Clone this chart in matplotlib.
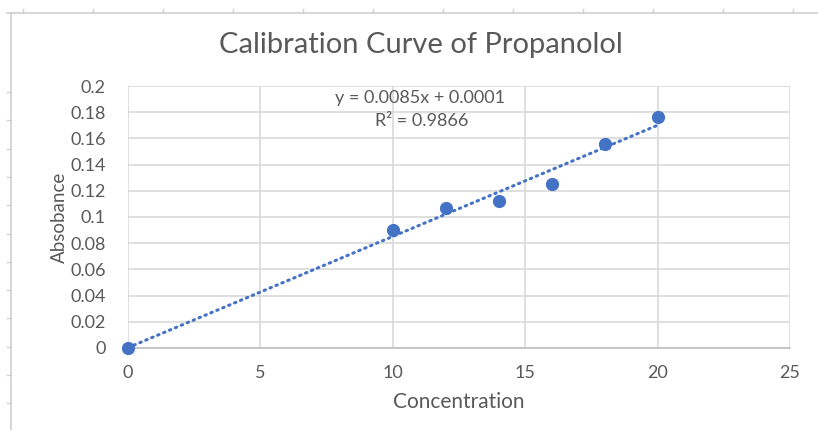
import matplotlib.pyplot as plt
from matplotlib.lines import Line2D
import numpy as np

# Calibration data
concentration = [0, 10, 12, 14, 16, 18, 20]
absorbance = [0.0, 0.090, 0.107, 0.112, 0.125, 0.156, 0.176]
x_ticks = [0, 5, 10, 15, 20, 25]
y_ticks = [0, 0.02, 0.04, 0.06, 0.08, 0.1, 0.12, 0.14, 0.16, 0.18, 0.2]
y_tick_labels = ['0', '0.02', '0.04', '0.06', '0.08', '0.1', '0.12',
                 '0.14', '0.16', '0.18', '0.2']
equation = 'y = 0.0085x + 0.0001'
r_squared = 'R² = 0.9866'

blue = '#4472C4'
grey = '#595959'
grid = '#d9d9d9'

plt.rcParams['font.family'] = ['Lato', 'DejaVu Sans']

fig = plt.figure(figsize=(8.18, 4.3), dpi=100)
ax = fig.add_axes([0.1565, 0.1907, 0.8093, 0.6093])

# linear trendline over the data range
slope, intercept = np.polyfit(concentration, absorbance, 1)
xs = np.array([min(concentration), max(concentration)])
ax.plot(xs, slope * xs + intercept, linestyle=(0, (0.5, 1.6)), color=blue,
        linewidth=2.2, dash_capstyle='round', zorder=3)
ax.plot(concentration, absorbance, 'o', color=blue, markersize=8.5,
        zorder=4, clip_on=False)

ax.set_xlim(0, 25)
ax.set_ylim(0, 0.2)
ax.set_xticks(x_ticks)
ax.set_yticks(y_ticks)
ax.set_yticklabels(y_tick_labels)
ax.grid(True, color=grid, linewidth=1.2)
ax.set_axisbelow(True)
for side in ['top', 'right', 'left']:
    ax.spines[side].set_visible(False)
ax.spines['bottom'].set_color('#bfbfbf')
ax.spines['bottom'].set_linewidth(1.2)
ax.tick_params(length=0, labelsize=13, colors=grey)
ax.tick_params(axis='y', pad=16)
ax.tick_params(axis='x', pad=12)

ax.set_xlabel('Concentration', fontsize=15, color=grey, labelpad=8)
ax.set_ylabel('Absobance', fontsize=13.5, color=grey, labelpad=2)
fig.text(0.515, 0.895, 'Calibration Curve of Propanolol', ha='center',
         va='center', fontsize=21, color=grey)

ax.text(0.441, 0.955, equation, transform=ax.transAxes, ha='center',
        va='center', fontsize=13, color=grey)
ax.text(0.443, 0.865, r_squared, transform=ax.transAxes, ha='center',
        va='center', fontsize=13, color=grey)

# spreadsheet frame behind the chart
W, H = 818, 430
fig.add_artist(Line2D([7 / W, 1], [1 - 13 / H, 1 - 13 / H],
                      color='#d0d0d0', linewidth=1.2))
fig.add_artist(Line2D([11 / W, 11 / W], [0, 1 - 13 / H],
                      color='#d0d0d0', linewidth=1.2))
for px in range(23, 818, 70):
    fig.add_artist(Line2D([px / W, px / W], [1 - 9 / H, 1 - 13 / H],
                          color='#d0d0d0', linewidth=1))
for py in np.arange(92, 430, 28.3):
    fig.add_artist(Line2D([7 / W, 11 / W], [1 - py / H, 1 - py / H],
                          color='#d0d0d0', linewidth=1))

fig.savefig('out.png', dpi=100)
